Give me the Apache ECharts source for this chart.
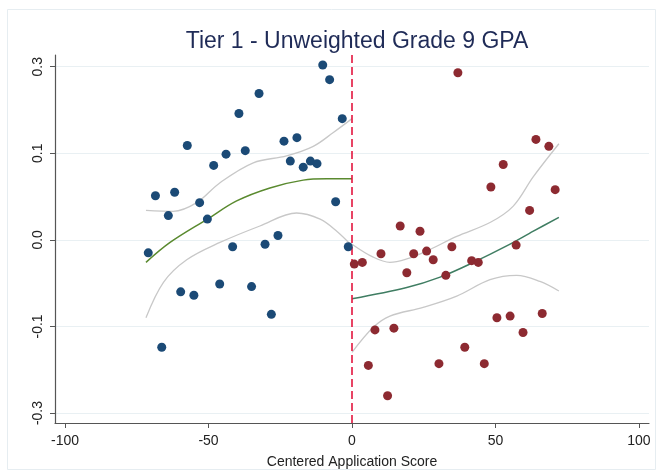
<!DOCTYPE html>
<html>
<head>
<meta charset="utf-8">
<script src="https://cdn.jsdelivr.net/npm/echarts@6/dist/echarts.min.js"></script>
<style>
  html, body { margin: 0; padding: 0; background: #ffffff; }
  #chart { width: 662px; height: 474px; }
</style>
</head>
<body>
<div id="chart"></div>
<script>
// Tier 1 regression-discontinuity plot: GPA residuals against the centered application score.

// Tick positions and printed tick labels
const xTickValues = [-100, -50, 0, 50, 100];
const yTickValues = [-0.2, -0.1, 0, 0.1, 0.2];
const yTickLabels = ['-0.3', '-0.1', '0.0', '0.1', '0.3'];

// Binned means below the cutoff [score, value]
const belowPoints = [
  [-10.2, 0.202], [-7.8, 0.185], [-3.4, 0.140], [-32.4, 0.169], [-39.4, 0.146],
  [-57.4, 0.109], [-23.7, 0.114], [-19.2, 0.118], [-43.9, 0.099], [-37.2, 0.103],
  [-48.2, 0.086], [-21.5, 0.091], [-17.0, 0.084], [-14.5, 0.091], [-12.2, 0.088],
  [-68.5, 0.051], [-61.8, 0.055], [-64.0, 0.028], [-53.1, 0.043], [-50.4, 0.024],
  [-5.7, 0.044], [-71.0, -0.015], [-41.6, -0.008], [-30.3, -0.005], [-25.8, 0.005],
  [-1.3, -0.008], [-59.7, -0.060], [-55.1, -0.064], [-46.1, -0.051], [-35.0, -0.054],
  [-28.1, -0.086], [-66.3, -0.124]
];

// Binned means above the cutoff [score, value]
const abovePoints = [
  [36.9, 0.193], [64.1, 0.116], [68.6, 0.108], [52.7, 0.087], [48.4, 0.061],
  [70.8, 0.058], [61.9, 0.034], [16.8, 0.016], [23.7, 0.010], [10.1, -0.016],
  [21.5, -0.016], [26.0, -0.013], [28.3, -0.023], [34.8, -0.008], [57.2, -0.006],
  [0.8, -0.028], [3.6, -0.026], [19.1, -0.038], [32.7, -0.041], [41.7, -0.024],
  [44.0, -0.026], [8.0, -0.104], [14.6, -0.102], [50.5, -0.090], [55.1, -0.088],
  [66.3, -0.085], [59.6, -0.107], [39.3, -0.124], [5.7, -0.145], [30.3, -0.143],
  [46.1, -0.143], [12.4, -0.180]
];

// Local polynomial fit and confidence band, below the cutoff
const belowFit = [
  [-71.8, -0.026], [-63.4, -0.003], [-50.4, 0.024], [-40.2, 0.045],
  [-28.6, 0.060], [-17.0, 0.069], [-8.8, 0.0705], [0, 0.0705]
];
const belowUpper = [
  [-71.8, 0.034], [-62.3, 0.033], [-54.1, 0.043], [-46.0, 0.066], [-34.4, 0.089],
  [-22.8, 0.097], [-13.5, 0.108], [-6.5, 0.124], [0, 0.140]
];
const belowLower = [
  [-71.8, -0.090], [-65.7, -0.049], [-57.6, -0.023], [-46.0, -0.003], [-32.1, 0.016],
  [-19.3, 0.031], [-11.1, 0.024], [-5.3, 0.010], [0, -0.007]
];

// Local polynomial fit and confidence band, above the cutoff
const aboveFit = [
  [0, -0.068], [19.1, -0.055], [30.7, -0.043], [42.3, -0.026],
  [53.9, -0.007], [63.2, 0.010], [72.1, 0.026]
];
const aboveUpper = [
  [0, -0.005], [7.4, -0.020], [13.2, -0.026], [19.1, -0.022], [26.0, -0.013],
  [36.5, 0.004], [48.1, 0.020], [56.2, 0.039], [63.2, 0.073], [72.1, 0.111]
];
const aboveLower = [
  [0, -0.130], [7.4, -0.101], [13.2, -0.088], [24.8, -0.078], [36.5, -0.065],
  [48.1, -0.046], [57.4, -0.041], [65.5, -0.048], [72.1, -0.059]
];

const cutoff = 0;

const FONT = '"Liberation Sans", Arial, sans-serif';

const chart = echarts.init(document.getElementById('chart'), null, { renderer: 'canvas' });

function curve(data, color, width) {
  return {
    type: 'line',
    data: data,
    smooth: 0.35,
    showSymbol: false,
    symbol: 'none',
    silent: true,
    lineStyle: { color: color, width: width },
    z: 3
  };
}

chart.setOption({
  animation: false,
  backgroundColor: '#ffffff',
  graphic: [{
    type: 'rect',
    shape: { x: 7.5, y: 9.5, width: 648, height: 460 },
    style: { fill: 'none', stroke: '#e6edf1', lineWidth: 1 },
    silent: true,
    z: -10
  }],
  title: {
    text: 'Tier 1 - Unweighted Grade 9 GPA',
    left: 352,
    top: 25,
    textAlign: 'center',
    textStyle: { color: '#1f2b57', fontSize: 23, fontWeight: 'normal', fontFamily: FONT }
  },
  grid: { left: 55, right: 13, top: 55, bottom: 51, containLabel: false },
  xAxis: {
    type: 'value',
    min: -103.5,
    max: 103.5,
    name: 'Centered Application Score',
    nameLocation: 'middle',
    nameGap: 32,
    nameTextStyle: { color: '#222', fontSize: 14, fontFamily: FONT },
    axisLine: { onZero: false, lineStyle: { color: '#555', width: 1.2 } },
    axisTick: { show: true, length: 5, customValues: xTickValues, lineStyle: { color: '#555' } },
    axisLabel: { customValues: xTickValues, color: '#222', fontSize: 14, fontFamily: FONT, margin: 11 },
    splitLine: { show: false }
  },
  yAxis: {
    type: 'value',
    min: -0.2115,
    max: 0.2135,
    axisLine: { show: true, onZero: false, lineStyle: { color: '#555', width: 1.2 } },
    axisTick: { show: true, length: 5, customValues: yTickValues, lineStyle: { color: '#555' } },
    axisLabel: {
      customValues: yTickValues,
      color: '#222', fontSize: 14, fontFamily: FONT, rotate: 90, margin: 10,
      formatter: function (v) {
        const i = yTickValues.findIndex(function (t) { return Math.abs(t - v) < 1e-9; });
        return i >= 0 ? yTickLabels[i] : '';
      }
    },
    splitLine: { show: false }
  },
  series: [
    {
      // horizontal reference lines at each y tick, kept beneath the marks
      type: 'line',
      data: [],
      silent: true,
      z: 0,
      markLine: {
        silent: true,
        z: 0,
        symbol: 'none',
        label: { show: false },
        lineStyle: { color: '#e9f0f3', width: 1, type: 'solid' },
        data: yTickValues.map(function (v) { return { yAxis: v }; })
      }
    },
    curve(belowUpper, '#c8c8c8', 1.3),
    curve(belowLower, '#c8c8c8', 1.3),
    curve(aboveUpper, '#c8c8c8', 1.3),
    curve(aboveLower, '#c8c8c8', 1.3),
    curve(belowFit, '#5a8a2f', 1.5),
    curve(aboveFit, '#3f7d62', 1.5),
    {
      type: 'scatter',
      data: belowPoints,
      symbolSize: 9,
      itemStyle: { color: '#1b4a76', opacity: 1 },
      z: 6
    },
    {
      type: 'scatter',
      data: abovePoints,
      symbolSize: 9,
      itemStyle: { color: '#8d2a31', opacity: 1 },
      z: 6,
      markLine: {
        silent: true,
        z: 5,
        symbol: 'none',
        label: { show: false },
        lineStyle: { color: '#e3163f', width: 1.6, type: [8, 4] },
        data: [{ xAxis: cutoff }]
      }
    }
  ]
});
</script>
</body>
</html>
